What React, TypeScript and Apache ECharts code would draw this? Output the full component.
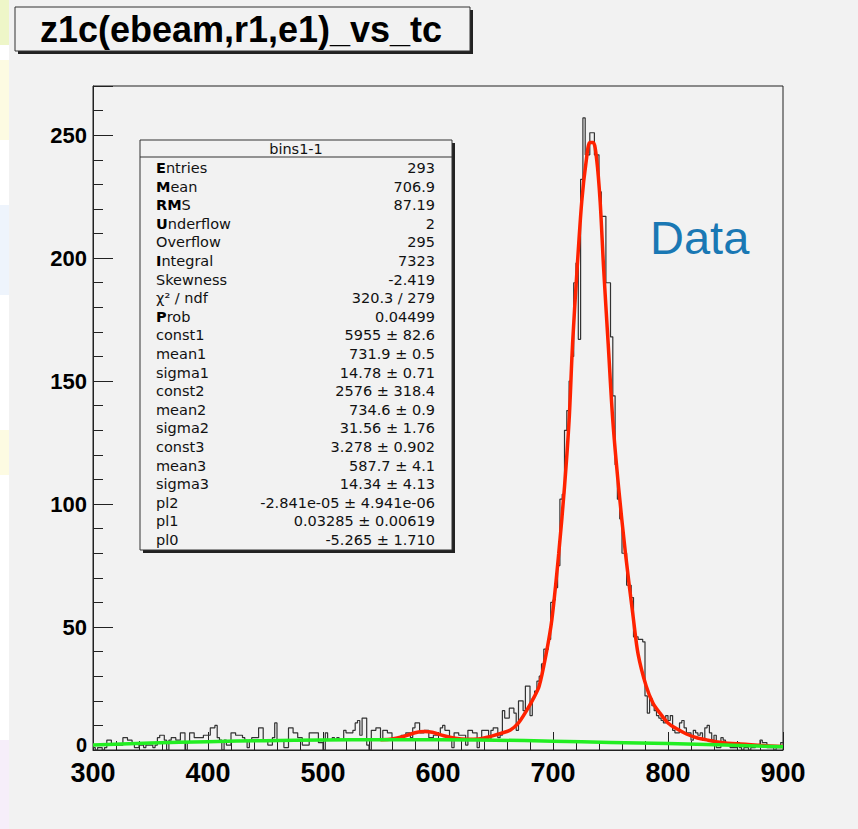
import React, { useEffect, useRef } from "react";
import * as echarts from "echarts";

// ---- data ----
const binStart = 300;
const binWidth = 2;
const counts = [
  1, 0, 1, 1, 0, 1, 4, 4, 2, 2,
  2, 2, 2, 5, 5, 4, 4, 3, 1, 1,
  2, 2, 1, 2, 2, 2, 1, 2, 5, 6,
  6, 4, 0, 4, 5, 5, 4, 4, 7, 7,
  0, 3, 7, 7, 5, 5, 5, 5, 6, 6,
  6, 9, 9, 10, 5, 4, 0, 4, 2, 2,
  7, 7, 6, 6, 6, 5, 4, 1, 4, 5,
  5, 5, 9, 9, 4, 4, 2, 2, 5, 11,
  4, 4, 4, 1, 1, 9, 9, 7, 7, 5,
  5, 2, 2, 2, 7, 7, 7, 7, 3, 3,
  0, 7, 4, 4, 5, 4, 5, 4, 4, 8,
  7, 7, 7, 8, 11, 12, 6, 13, 13, 2,
  0, 8, 8, 9, 9, 4, 8, 8, 7, 7,
  5, 5, 5, 5, 6, 6, 7, 7, 5, 9,
  11, 11, 7, 7, 8, 8, 5, 5, 6, 6,
  6, 9, 10, 8, 8, 4, 1, 7, 7, 6,
  6, 6, 2, 8, 8, 7, 7, 1, 4, 8,
  8, 8, 4, 8, 9, 9, 5, 6, 16, 13,
  13, 17, 17, 15, 8, 20, 20, 16, 26, 26,
  14, 21, 24, 28, 30, 35, 41, 41, 45, 60,
  61, 66, 75, 102, 104, 130, 138, 150, 160, 190,
  198, 167, 232, 257, 242, 242, 251, 251, 242, 242,
  227, 217, 217, 190, 190, 168, 144, 116, 102, 94,
  80, 80, 67, 67, 62, 46, 46, 45, 45, 44,
  22, 15, 21, 18, 16, 14, 13, 12, 11, 14,
  12, 14, 8, 7, 7, 11, 12, 9, 7, 7,
  4, 8, 7, 6, 7, 4, 9, 10, 7, 4,
  6, 1, 1, 5, 4, 3, 3, 1, 1, 1,
  3, 1, 0, 1, 1, 0, 1, 1, 2, 2,
  4, 3, 3, 1, 1, 1, 0, 1, 1, 3,
];

const fitX = [550, 560, 570, 580, 588, 595, 605, 615, 625, 635, 645, 655, 663, 670, 677, 683, 688, 694, 699, 705, 710, 714, 717, 721, 725, 729, 732, 735, 738, 741, 744, 748, 752, 757, 763, 770, 774, 781, 787, 793, 800, 808, 816, 825, 835, 845, 860, 880, 900];
const fitY = [4.2, 4.5, 5.5, 7.0, 7.5, 7.2, 5.8, 4.8, 4.4, 4.5, 5.4, 6.8, 8.1, 11, 16, 21, 26, 39, 53, 80, 107, 134, 165, 196, 223, 240, 247, 247, 240, 223, 196, 165, 134, 107, 80, 53, 39, 26, 19, 15, 11, 8.5, 6.5, 5, 4, 3.2, 2.5, 1.9, 1.4];

const bkgX = [300, 350, 400, 450, 500, 550, 600, 650, 700, 750, 800, 850, 900];
const bkgY = [2.0, 2.8, 3.4, 3.8, 4.1, 4.2, 4.2, 4.0, 3.6, 3.1, 2.6, 2.0, 1.3];

const xMin = 300, xMax = 900, xStep = 100;
const yMin = 0, yMax = 270, yStep = 50;

const titleText = "z1c(ebeam,r1,e1)_vs_tc";
const statsTitle = "bins1-1";
const statLabels = [
  "{b|E}ntries", "{b|M}ean", "{b|RM}S", "{b|U}nderflow", "Overflow", "{b|I}ntegral",
  "Skewness", "χ² / ndf", "{b|P}rob", "const1", "mean1", "sigma1", "const2", "mean2",
  "sigma2", "const3", "mean3", "sigma3", "pl2", "pl1", "pl0",
];
const statValues = [
  "293", "706.9", "87.19", "2", "295", "7323", "-2.419", "320.3 / 279", "0.04499",
  "5955 ± 82.6", "731.9 ± 0.5", "14.78 ± 0.71", "2576 ± 318.4", "734.6 ± 0.9",
  "31.56 ± 1.76", "3.278 ± 0.902", "587.7 ± 4.1", "14.34 ± 4.13",
  "-2.841e-05 ± 4.941e-06", "0.03285 ± 0.00619", "-5.265 ± 1.710",
];
const annotation = "Data";

export default function App() {
  const ref = useRef<HTMLDivElement>(null);
  useEffect(() => {
    if (!ref.current) return;
    const chart = echarts.init(ref.current, undefined, { renderer: "svg" });

    const histData: number[][] = counts.map((c, i) => [binStart + i * binWidth, c]);
    histData.push([binStart + counts.length * binWidth, counts[counts.length - 1]]);

    const statFont = "'DejaVu Sans', sans-serif";
    const statSize = 14.5;
    const rowTop = 168;
    const rowStep = 18.6;
    const statEls: any[] = [];
    statLabels.forEach((lab, i) => {
      const y = rowTop + i * rowStep;
      statEls.push({
        type: "text", x: 156, y, z: 20,
        style: {
          text: lab, fill: "#111", font: `${statSize}px ${statFont}`,
          verticalAlign: "middle", align: "left",
          rich: { b: { fontWeight: "bold", fontSize: statSize, fontFamily: statFont, fill: "#000" } },
        },
      });
      statEls.push({
        type: "text", x: 435, y, z: 20,
        style: { text: statValues[i], fill: "#111", font: `${statSize}px ${statFont}`, verticalAlign: "middle", align: "right" },
      });
    });

    const labelFont = "'Liberation Sans', Arial, sans-serif";
    const option: any = {
      animation: false,
      backgroundColor: "#f2f2f2",
      grid: { left: 93, right: 75, top: 86, bottom: 79, show: true, borderColor: "#222", borderWidth: 1, backgroundColor: "transparent" },
      xAxis: {
        type: "value", min: xMin, max: xMax, interval: xStep,
        axisLine: { show: true, onZero: false, lineStyle: { color: "#222", width: 1 } },
        axisTick: { show: true, inside: true, length: 18, lineStyle: { color: "#222", width: 1 } },
        minorTick: { show: true, splitNumber: 5, length: 9, lineStyle: { color: "#222", width: 1 } },
        splitLine: { show: false },
        axisLabel: { color: "#000", fontSize: 27, fontWeight: "bold", fontFamily: labelFont, margin: 9 },
      },
      yAxis: {
        type: "value", min: yMin, max: yMax, interval: yStep,
        axisLine: { show: true, lineStyle: { color: "#222", width: 1 } },
        axisTick: { show: true, inside: true, length: 20, lineStyle: { color: "#222", width: 1 } },
        minorTick: { show: true, splitNumber: 5, length: 10, lineStyle: { color: "#222", width: 1 } },
        splitLine: { show: false },
        axisLabel: {
          color: "#000", fontSize: 22, fontWeight: "bold", fontFamily: labelFont, margin: 6,
          showMaxLabel: false,
          formatter: (v: number) => (v === 0 ? "{z|0}" : v % yStep === 0 ? String(v) : ""),
          rich: { z: { fontSize: 20, fontWeight: "bold", fontFamily: labelFont, color: "#000", padding: [0, 0, 10, 0] } },
        },
      },
      series: [
        {
          type: "line", data: histData, step: "end", symbol: "none",
          lineStyle: { color: "#333", width: 1.2 }, z: 3,
        },
        {
          type: "line", data: fitX.map((x, i) => [x, fitY[i]]), smooth: 0.3, symbol: "none",
          lineStyle: { color: "#ff2200", width: 3.5 }, z: 4,
        },
        {
          type: "line", data: bkgX.map((x, i) => [x, bkgY[i]]), smooth: true, symbol: "none",
          lineStyle: { color: "#22ee22", width: 3.5 }, z: 5,
        },
      ],
      graphic: [
        // left strip (slide background)
        { type: "rect", shape: { x: 0, y: 0, width: 9, height: 829 }, style: { fill: "#ffffff" }, z: 1 },
        { type: "rect", shape: { x: 0, y: 0, width: 9, height: 45 }, style: { fill: "#eef6c8" }, z: 1 },
        { type: "rect", shape: { x: 0, y: 60, width: 9, height: 80 }, style: { fill: "#fdfbe2" }, z: 1 },
        { type: "rect", shape: { x: 0, y: 205, width: 9, height: 90 }, style: { fill: "#eef4fc" }, z: 1 },
        { type: "rect", shape: { x: 0, y: 430, width: 9, height: 45 }, style: { fill: "#fdfbe2" }, z: 1 },
        { type: "rect", shape: { x: 0, y: 740, width: 9, height: 89 }, style: { fill: "#f6eefa" }, z: 1 },
        // title box
        { type: "rect", shape: { x: 18, y: 10, width: 455, height: 44 }, style: { fill: "#222" }, z: 10 },
        { type: "rect", shape: { x: 15, y: 7, width: 455, height: 44 }, style: { fill: "#f2f2f2", stroke: "#333", lineWidth: 1 }, z: 11 },
        {
          type: "text", x: 241, y: 29, z: 12,
          style: { text: titleText, fill: "#000", font: `bold 36px ${labelFont}`, align: "center", verticalAlign: "middle" },
        },
        // stats box
        { type: "rect", shape: { x: 143, y: 143, width: 312, height: 410 }, style: { fill: "#222" }, z: 18 },
        { type: "rect", shape: { x: 140, y: 140, width: 312, height: 410 }, style: { fill: "#f2f2f2", stroke: "#333", lineWidth: 1 }, z: 19 },
        { type: "line", shape: { x1: 140, y1: 157, x2: 452, y2: 157 }, style: { stroke: "#333", lineWidth: 1 }, z: 20 },
        {
          type: "text", x: 296, y: 149, z: 20,
          style: { text: statsTitle, fill: "#111", font: `${statSize}px ${statFont}`, align: "center", verticalAlign: "middle" },
        },
        ...statEls,
        {
          type: "text", x: 650, y: 237, z: 20,
          style: { text: annotation, fill: "#1a78b4", font: `47px ${labelFont}`, align: "left", verticalAlign: "middle" },
        },
      ],
    };
    chart.setOption(option);
    return () => chart.dispose();
  }, []);
  return <div ref={ref} style={{ position: "absolute", left: 0, top: 0, width: 858, height: 829 }} />;
}
